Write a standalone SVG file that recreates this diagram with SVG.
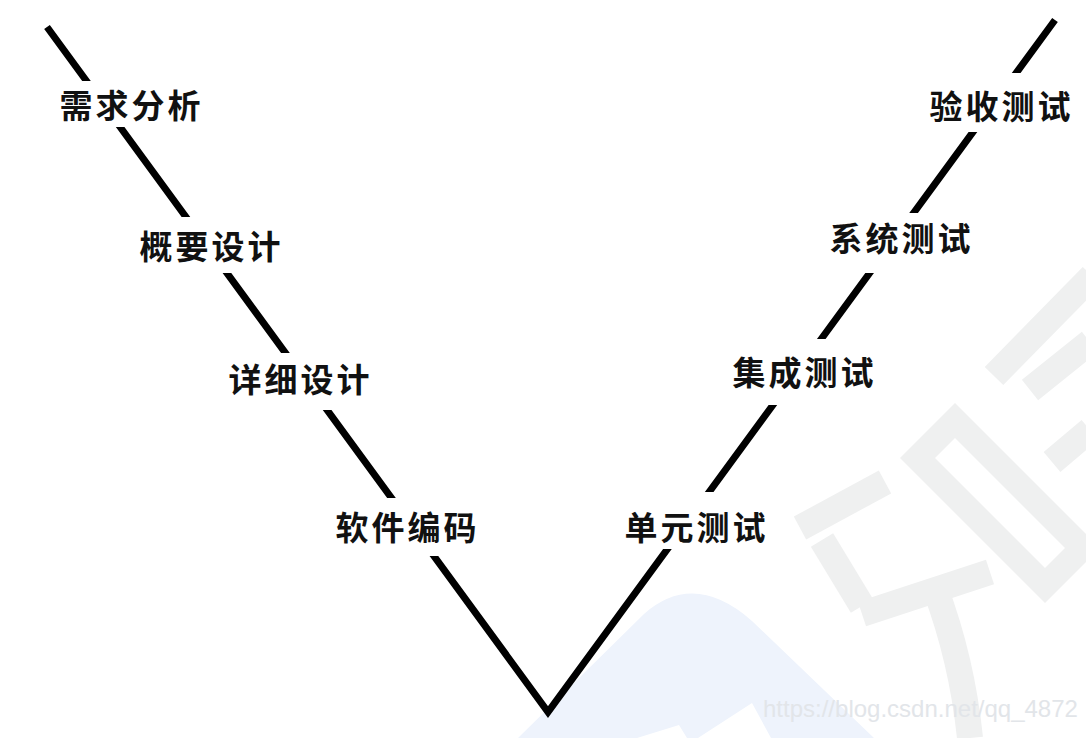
<svg xmlns="http://www.w3.org/2000/svg" width="1086" height="738" viewBox="0 0 1086 738">
  <style>
    .lbl { font-family: "Noto Sans CJK SC", "Noto Sans", sans-serif; font-size: 33px; font-weight: bold; fill: #111; text-anchor: middle; letter-spacing: 3px; }
    .gap { fill: #ffffff; }
    .wm { fill: none; stroke: #eff0f0; stroke-width: 26; stroke-linecap: butt; }
    .url { font-family: "Liberation Sans", Arial, sans-serif; font-size: 24px; fill: #e2e5e9; }
  </style>
  <rect x="0" y="0" width="1086" height="738" fill="#ffffff"/>
  <g id="watermark">
    <path d="M518,738 L644,614 Q694,570 752,621 L874,738 L771,738 L752,703 L698,738 L687,738 L679,725 L637,738 Z" fill="#eef3fc"/>
    <path class="wm" d="M800,528 L885,482"/>
    <path class="wm" d="M822,540 L862,606"/>
    <path class="wm" d="M862,614 L990,572"/>
    <path class="wm" d="M935,588 Q962,660 970,738"/>
    <path d="M900,458 L955,403 L1100,548 L1045,603 Z M935,458 L955,438 L1065,548 L1045,568 Z" fill="#eff0f0" fill-rule="evenodd"/>
    <path class="wm" d="M994,376 L1092,276"/>
    <path class="wm" d="M1030,390 L1090,342"/>
    <path class="wm" d="M1052,462 L1090,430"/>
    <text class="url" x="763" y="717">https://blog.csdn.net/qq_4872</text>
  </g>
  <g id="connectors">
    <polyline points="47,27 548,712 1055,20" fill="none" stroke="#000" stroke-width="7" stroke-linejoin="miter"/>
  </g>
  <g id="n-xuqiu">
    <rect class="gap" x="50" y="81" width="160" height="46"/>
    <text class="lbl" x="131.5" y="118">需求分析</text>
  </g>
  <g id="n-gaiyao">
    <rect class="gap" x="130" y="217" width="160" height="56"/>
    <text class="lbl" x="211.5" y="259">概要设计</text>
  </g>
  <g id="n-xiangxi">
    <rect class="gap" x="220" y="353" width="160" height="57"/>
    <text class="lbl" x="300.5" y="392">详细设计</text>
  </g>
  <g id="n-bianma">
    <rect class="gap" x="326" y="498" width="160" height="58"/>
    <text class="lbl" x="407.5" y="540">软件编码</text>
  </g>
  <g id="n-danyuan">
    <rect class="gap" x="615" y="492" width="160" height="57"/>
    <text class="lbl" x="696.5" y="540">单元测试</text>
  </g>
  <g id="n-jicheng">
    <rect class="gap" x="724" y="339" width="160" height="66"/>
    <text class="lbl" x="804.5" y="385">集成测试</text>
  </g>
  <g id="n-xitong">
    <rect class="gap" x="820" y="213" width="160" height="60"/>
    <text class="lbl" x="901.5" y="251">系统测试</text>
  </g>
  <g id="n-yanshou">
    <rect class="gap" x="920" y="73" width="160" height="59"/>
    <text class="lbl" x="1001.5" y="119">验收测试</text>
  </g>
</svg>
